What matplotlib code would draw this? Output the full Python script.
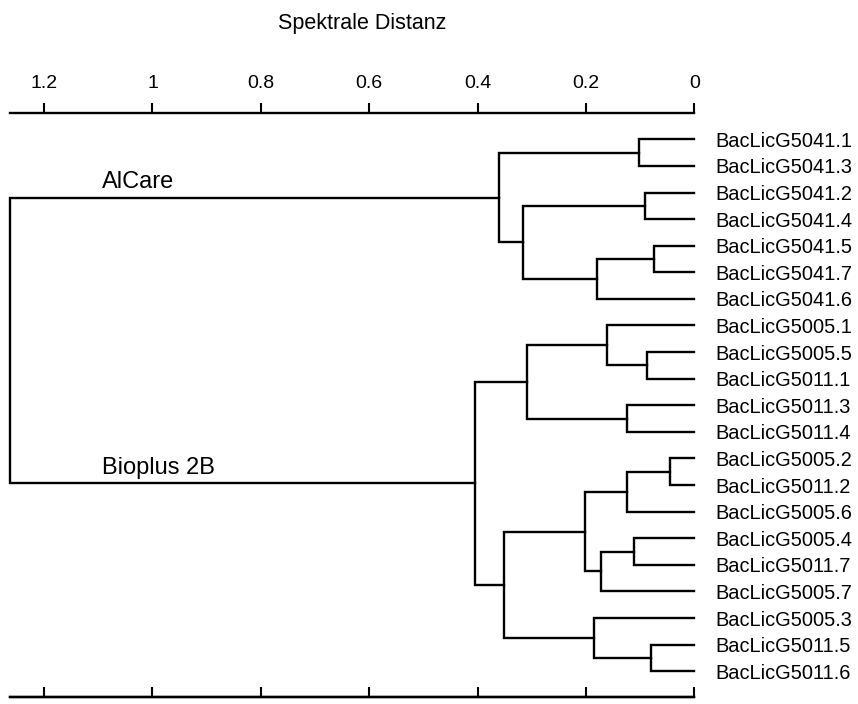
import matplotlib
matplotlib.use("Agg")
import matplotlib.pyplot as plt

plt.rcParams['font.family'] = ['Liberation Sans', 'DejaVu Sans']

# leaves, top to bottom
leaves = [
    "BacLicG5041.1", "BacLicG5041.3", "BacLicG5041.2", "BacLicG5041.4",
    "BacLicG5041.5", "BacLicG5041.7", "BacLicG5041.6",
    "BacLicG5005.1", "BacLicG5005.5", "BacLicG5011.1", "BacLicG5011.3",
    "BacLicG5011.4", "BacLicG5005.2", "BacLicG5011.2", "BacLicG5005.6",
    "BacLicG5005.4", "BacLicG5011.7", "BacLicG5005.7", "BacLicG5005.3",
    "BacLicG5011.5", "BacLicG5011.6",
]

# merges: index < 21 is a leaf, index >= 21 is an earlier merge (21 + row)
merge_left = [0, 2, 4, 23, 22, 21, 8, 7, 10, 28, 12, 31, 15, 33, 32, 19, 18, 35, 30, 26]
merge_right = [1, 3, 5, 6, 24, 25, 9, 27, 11, 29, 13, 14, 16, 17, 34, 20, 36, 37, 38, 39]
merge_height = [0.102, 0.091, 0.074, 0.179, 0.317, 0.360, 0.088, 0.161, 0.125, 0.309,
                0.045, 0.124, 0.111, 0.172, 0.202, 0.079, 0.186, 0.351, 0.404, 1.263]

group_names = ["AlCare", "Bioplus 2B"]
group_nodes = [26, 39]

ticks = [0, 0.2, 0.4, 0.6, 0.8, 1.0, 1.2]
tick_labels = ["0", "0.2", "0.4", "0.6", "0.8", "1", "1.2"]

n = len(leaves)
ypos = list(range(n))
hpos = [0.0] * n
for l, r, h in zip(merge_left, merge_right, merge_height):
    ypos.append((ypos[l] + ypos[r]) / 2)
    hpos.append(h)

fig = plt.figure(figsize=(8.58, 7.04), dpi=100)
ax = fig.add_axes([10 / 858, 1 - 697 / 704, 684.3 / 858, 584 / 704])

for k, (l, r, h) in enumerate(zip(merge_left, merge_right, merge_height)):
    xs = [hpos[l], h, h, hpos[r]]
    ys = [ypos[l], ypos[l], ypos[r], ypos[r]]
    ax.plot(xs, ys, color='black', lw=1.7, solid_joinstyle='miter',
            clip_on=False)

for name, node in zip(group_names, group_nodes):
    ax.annotate(name, xy=(1.093, ypos[node]), xytext=(0, 7),
                textcoords='offset points', ha='left', va='baseline',
                fontsize=17)

ax.set_xlim(max(merge_height), 0)
ax.set_ylim(n - 0.03, -0.99)

ax.set_xticks(ticks)
ax.set_xticklabels(tick_labels)
ax.tick_params(axis='x', top=True, bottom=False, labeltop=True,
               labelbottom=False, direction='out', length=7, width=1.5,
               pad=8, labelsize=14)

ax.yaxis.tick_right()
ax.set_yticks(range(n))
ax.set_yticklabels(leaves)
ax.tick_params(axis='y', length=0, pad=15, labelsize=14.4)

for side in ['left', 'right']:
    ax.spines[side].set_visible(False)
ax.spines['top'].set_linewidth(1.7)
ax.spines['bottom'].set_linewidth(1.7)

sec = ax.secondary_xaxis('bottom')
sec.set_xticks(ticks)
sec.tick_params(axis='x', direction='in', length=7, width=1.5,
                labelbottom=False)
sec.spines['bottom'].set_linewidth(1.7)

fig.text(362 / 858, 1 - 29.5 / 704, "Spektrale Distanz", ha='center',
         va='baseline', fontsize=15.5)

fig.savefig("out.png", dpi=100, facecolor='white')
